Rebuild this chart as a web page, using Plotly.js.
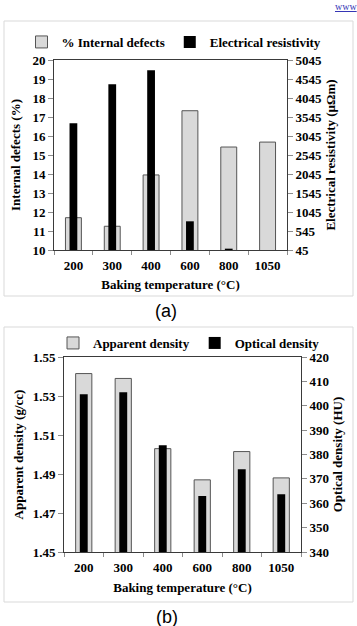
<!DOCTYPE html>
<html>
<head>
<meta charset="utf-8">
<script src="https://cdn.plot.ly/plotly-3.0.1.min.js"></script>
<style>
  html, body { margin: 0; padding: 0; background: #fff; }
  #chart { width: 357px; height: 626px; }
</style>
</head>
<body>
<div id="chart"></div>
<script>
// Baking temperature categories shared by both panels
const temperatures = ['200', '300', '400', '600', '800', '1050'];

// Panel (a)
const internalDefects = [11.7, 11.25, 13.95, 17.33, 15.42, 15.68];      // %
const electricalResistivity = [3380, 4405, 4775, 800, 80, 45];           // µΩm

// Panel (b)
const apparentDensity = [1.5415, 1.539, 1.503, 1.487, 1.5015, 1.488];   // g/cc
const opticalDensity = [404.7, 405.5, 383.8, 363.0, 374.0, 363.7];      // HU

const W = 357, H = 626;
const px = v => v / W;            // horizontal pixel -> paper
const py = v => 1 - v / H;        // vertical pixel -> paper

const serif = 'Liberation Serif, Times New Roman, serif';
const boldFont = (size) => ({ family: serif, size: size, color: '#000', weight: 'bold' });

const frameColor = '#3a3a3a';
const tickColor = '#8c8c8c';
const lightFill = '#d9d9d9';

const grayW = 0.41, blackW = 0.2;

const traces = [
  {
    type: 'bar', name: '% Internal defects', x: temperatures, y: internalDefects,
    xaxis: 'x', yaxis: 'y', legend: 'legend',
    width: grayW, offset: -grayW / 2,
    marker: { color: lightFill, line: { color: '#555', width: 1 } },
    hoverinfo: 'skip'
  },
  {
    type: 'bar', name: 'Electrical resistivity', x: temperatures, y: electricalResistivity,
    xaxis: 'x', yaxis: 'y2', legend: 'legend',
    width: blackW, offset: -blackW / 2,
    marker: { color: '#000', line: { width: 0 } },
    hoverinfo: 'skip'
  },
  {
    type: 'bar', name: 'Apparent density', x: temperatures, y: apparentDensity,
    xaxis: 'x2', yaxis: 'y3', legend: 'legend2',
    width: grayW, offset: -grayW / 2,
    marker: { color: lightFill, line: { color: '#555', width: 1 } },
    hoverinfo: 'skip'
  },
  {
    type: 'bar', name: 'Optical density', x: temperatures, y: opticalDensity,
    xaxis: 'x2', yaxis: 'y4', legend: 'legend2',
    width: blackW, offset: -blackW / 2,
    marker: { color: '#000', line: { width: 0 } },
    hoverinfo: 'skip'
  }
];

const xCommon = {
  type: 'category', showline: true, linecolor: frameColor, linewidth: 1, mirror: true,
  ticks: 'outside', tickson: 'boundaries', ticklen: 4, tickcolor: tickColor,
  ticklabelstandoff: 3,
  tickfont: boldFont(13), showgrid: false, zeroline: false, fixedrange: true
};
const yCommon = {
  showline: true, linecolor: frameColor, linewidth: 1,
  ticks: 'outside', ticklen: 5, tickcolor: tickColor,
  tickfont: boldFont(13), showgrid: false, zeroline: false, fixedrange: true
};

const layout = {
  width: W, height: H,
  margin: { l: 0, r: 0, t: 0, b: 0, pad: 0 },
  paper_bgcolor: '#fff', plot_bgcolor: '#fff',
  barmode: 'overlay',
  showlegend: true,

  xaxis: Object.assign({}, xCommon, {
    domain: [px(54), px(287)], anchor: 'y',
    title: { text: 'Baking temperature (°C)', font: boldFont(13), standoff: 8 }
  }),
  yaxis: Object.assign({}, yCommon, {
    domain: [py(250), py(60)], anchor: 'x',
    range: [10, 20], tick0: 10, dtick: 1,
    title: { text: 'Internal defects (%)', font: boldFont(13), standoff: 8 }
  }),
  yaxis2: Object.assign({}, yCommon, {
    overlaying: 'y', side: 'right', anchor: 'x',
    range: [45, 5045], tick0: 45, dtick: 500,
    title: { text: 'Electrical resistivity (µΩm)', font: boldFont(13), standoff: 4 }
  }),

  xaxis2: Object.assign({}, xCommon, {
    domain: [px(64), px(301)], anchor: 'y3',
    title: { text: 'Baking temperature (°C)', font: boldFont(13), standoff: 9 }
  }),
  yaxis3: Object.assign({}, yCommon, {
    domain: [py(552), py(357)], anchor: 'x2',
    range: [1.45, 1.55], tick0: 1.45, dtick: 0.02, tickformat: '.2f',
    title: { text: 'Apparent density (g/cc)', font: boldFont(13), standoff: 6 }
  }),
  yaxis4: Object.assign({}, yCommon, {
    overlaying: 'y3', side: 'right', anchor: 'x2',
    range: [340, 420], tick0: 340, dtick: 10,
    title: { text: 'Optical density (HU)', font: boldFont(13), standoff: 4 }
  }),

  legend: {
    orientation: 'h', x: px(174), xanchor: 'center', y: py(42), yanchor: 'middle',
    font: boldFont(13), bgcolor: 'rgba(0,0,0,0)', itemwidth: 30, traceorder: 'normal'
  },
  legend2: {
    orientation: 'h', x: px(189), xanchor: 'center', y: py(343), yanchor: 'middle',
    font: boldFont(13), bgcolor: 'rgba(0,0,0,0)', itemwidth: 30, traceorder: 'normal'
  },

  shapes: [
    { type: 'rect', xref: 'paper', yref: 'paper', x0: px(4), x1: px(353), y0: py(296), y1: py(21),
      line: { color: '#d9d9d9', width: 1 }, fillcolor: 'rgba(0,0,0,0)', layer: 'below' },
    { type: 'rect', xref: 'paper', yref: 'paper', x0: px(4), x1: px(353), y0: py(602), y1: py(327),
      line: { color: '#d9d9d9', width: 1 }, fillcolor: 'rgba(0,0,0,0)', layer: 'below' }
  ],

  annotations: [
    { xref: 'paper', yref: 'paper', x: px(166), y: py(311), text: '(a)', showarrow: false,
      xanchor: 'center', yanchor: 'middle',
      font: { family: 'Liberation Sans, Arial, sans-serif', size: 18, color: '#000' } },
    { xref: 'paper', yref: 'paper', x: px(167), y: py(617), text: '(b)', showarrow: false,
      xanchor: 'center', yanchor: 'middle',
      font: { family: 'Liberation Sans, Arial, sans-serif', size: 18, color: '#000' } },
    { xref: 'paper', yref: 'paper', x: px(333), y: py(6), text: '<u>www</u>', showarrow: false,
      xanchor: 'left', yanchor: 'middle',
      font: { family: serif, size: 10, color: '#3535b5' } }
  ]
};

Plotly.newPlot('chart', traces, layout, { displayModeBar: false, staticPlot: true });
</script>
</body>
</html>
